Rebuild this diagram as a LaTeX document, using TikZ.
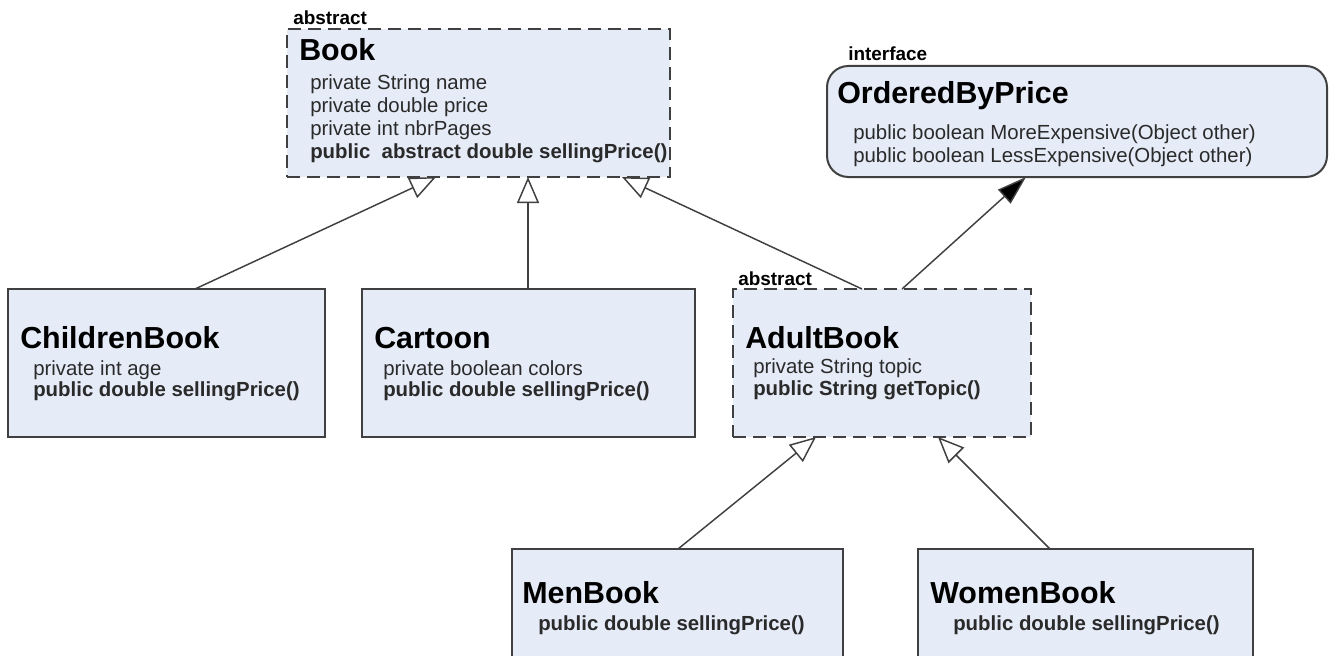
\documentclass[tikz,border=0pt]{standalone}
\usepackage{fontspec}
\setmainfont{Liberation Sans}
\usetikzlibrary{arrows.meta,calc}
\definecolor{boxfill}{HTML}{E5EBF7}
\definecolor{edge}{HTML}{404040}
\definecolor{txt}{HTML}{2A2A2A}
\begin{document}
\begin{tikzpicture}[x=0.75pt,y=-0.75pt,
  cls/.style={draw=edge, line width=1.5pt, fill=boxfill, rectangle, anchor=north west, inner sep=0, outer sep=0},
  abs/.style={cls, dash pattern=on 10pt off 5pt, line width=1.7pt},
  title/.style={anchor=base west, inner sep=0, font=\fontsize{22.8}{26}\selectfont\bfseries},
  attr/.style={anchor=base west, inner sep=0, text=txt, font=\fontsize{15.3}{18}\selectfont},
  meth/.style={anchor=base west, inner sep=0, text=txt, font=\fontsize{15.3}{18}\selectfont\bfseries},
  stereo/.style={anchor=base west, inner sep=0, font=\fontsize{14.2}{16}\selectfont\bfseries},
  inh/.style={draw=edge, line width=1.1pt, -{Triangle[length=19.5pt, width=16.5pt, fill=white, line width=1.1pt]}},
  real/.style={draw=edge, line width=1.1pt, -{Triangle[length=22pt, width=14pt, fill=black]}}
]
\useasboundingbox (0,0) rectangle (1330,656);

% class boxes
\node[abs, minimum width=287.25pt, minimum height=111pt] (book) at (287,29) {};
\node[cls, rounded corners=16pt, minimum width=375pt, minimum height=83.25pt] (obp) at (827,66) {};
\node[cls, minimum width=237.75pt, minimum height=111pt] (cb) at (8,289) {};
\node[cls, minimum width=249.75pt, minimum height=111pt] (cart) at (362,289) {};
\node[abs, minimum width=223.5pt, minimum height=111pt] (ab) at (733,289) {};
\node[cls, minimum width=248.25pt, minimum height=112.5pt] (men) at (512,549) {};
\node[cls, minimum width=251.25pt, minimum height=112.5pt] (women) at (918,549) {};

% Book
\node[stereo] (bookst) at (293,25) {abstract};
\node[title] (bookt) at (299,61) {Book};
\node[attr] (booka1) at (310,90) {private String name};
\node[attr] (booka2) at (310,113) {private double price};
\node[attr] (booka3) at (310,136) {private int nbrPages};
\node[meth] (bookm1) at (310,159) {public\ \ abstract double sellingPrice()};

% OrderedByPrice
\node[stereo] (obpst) at (848,61) {interface};
\node[title] (obpt) at (837,104) {OrderedByPrice};
\node[attr] (obpm1) at (853,140) {public boolean MoreExpensive(Object other)};
\node[attr] (obpm2) at (853,162) {public boolean LessExpensive(Object other)};

% ChildrenBook
\node[title] (cbt) at (20,348) {ChildrenBook};
\node[attr] (cba1) at (33,375) {private int age};
\node[meth] (cbm1) at (33,396) {public double sellingPrice()};

% Cartoon
\node[title] (cartt) at (374,348) {Cartoon};
\node[attr] (carta1) at (383,375) {private boolean colors};
\node[meth] (cartm1) at (383,396) {public double sellingPrice()};

% AdultBook
\node[stereo] (abst) at (738,285) {abstract};
\node[title] (abt) at (745,348) {AdultBook};
\node[attr] (aba1) at (753,373) {private String topic};
\node[meth] (abm1) at (753,395) {public String getTopic()};

% MenBook
\node[title] (ment) at (522,603) {MenBook};
\node[meth] (menm1) at (538,630) {public double sellingPrice()};

% WomenBook
\node[title] (wment) at (930,603) {WomenBook};
\node[meth] (wmenm1) at (953,630) {public double sellingPrice()};

% connectors
\draw[inh] ($(cb.north west)+(187,0)$) -- ($(book.south west)+(149,0)$);
\draw[inh] ($(cart.north west)+(166,0)$) -- ($(book.south west)+(241,0)$);
\draw[inh] ($(ab.north west)+(129,0)$) -- ($(book.south west)+(335,0)$);
\draw[real] ($(ab.north west)+(169,0)$) -- ($(obp.south west)+(199,0)$);
\draw[inh] ($(men.north west)+(166,0)$) -- ($(ab.south west)+(83,0)$);
\draw[inh] ($(women.north west)+(132,0)$) -- ($(ab.south west)+(205,0)$);
\end{tikzpicture}
\end{document}
